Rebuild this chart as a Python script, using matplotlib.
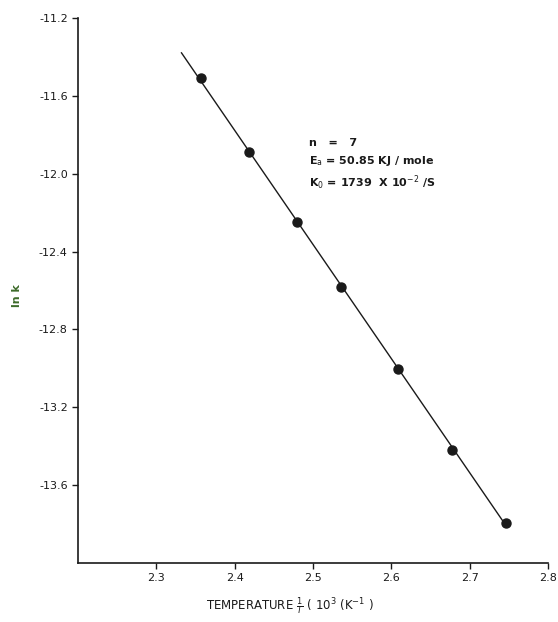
import numpy as np
import matplotlib
matplotlib.use("Agg")
import matplotlib.pyplot as plt

# inverse temperature (10^3 / K) and ln k
inv_temp = [2.357, 2.418, 2.479, 2.536, 2.609, 2.678, 2.747]
ln_k = [-11.51, -11.888, -12.249, -12.58, -13.004, -13.421, -13.794]

x_ticks = [2.3, 2.4, 2.5, 2.6, 2.7, 2.8]
y_ticks = [-11.2, -11.6, -12.0, -12.4, -12.8, -13.2, -13.6]

fig = plt.figure(figsize=(5.58, 6.22), dpi=100)
ax = fig.add_axes([0.14, 0.095, 0.842, 0.876])

# fitted Arrhenius line
slope, intercept = np.polyfit(inv_temp, ln_k, 1)
xl = np.array([2.332, 2.745])
ax.plot(xl, slope * xl + intercept, color="#1a1a1a", lw=1.0)
ax.plot(inv_temp, ln_k, "o", color="#1a1a1a", ms=6.5)

ax.set_xlim(2.2, 2.8)
ax.set_ylim(-14.0, -11.2)
ax.set_xticks(x_ticks)
ax.set_xticklabels([f"{v:.1f}" for v in x_ticks])
ax.set_yticks(y_ticks)
ax.set_yticklabels([f"-{abs(v):.1f}" for v in y_ticks])
ax.tick_params(direction="out", length=4, width=1, labelsize=8, colors="#1a1a1a")

for side in ["top", "right"]:
    ax.spines[side].set_visible(False)
for side in ["left", "bottom"]:
    ax.spines[side].set_color("#1a1a1a")
    ax.spines[side].set_linewidth(1.2)

ax.set_ylabel("ln k", color="#3d6b2a", fontsize=8, fontweight="bold")
ax.yaxis.set_label_coords(-0.12, 0.49)
ax.set_xlabel(r"TEMPERATURE $\frac{1}{T}$ ( 10$^3$ (K$^{-1}$ )", fontsize=8.5, color="#1a1a1a")
ax.xaxis.set_label_coords(0.45, -0.06)

# kinetic parameters
tx = 2.495
ax.text(tx, -11.84, "n   =   7", fontsize=8, color="#1a1a1a", fontweight="bold", va="center")
ax.text(tx, -11.935, r"E$_{\mathrm{a}}$ = 50.85 KJ / mole", fontsize=8, color="#1a1a1a", fontweight="bold", va="center")
ax.text(tx, -12.045, r"K$_{\mathrm{0}}$ = 1739  X 10$^{-2}$ /S", fontsize=8, color="#1a1a1a", fontweight="bold", va="center")

fig.savefig("out.png", dpi=100)
